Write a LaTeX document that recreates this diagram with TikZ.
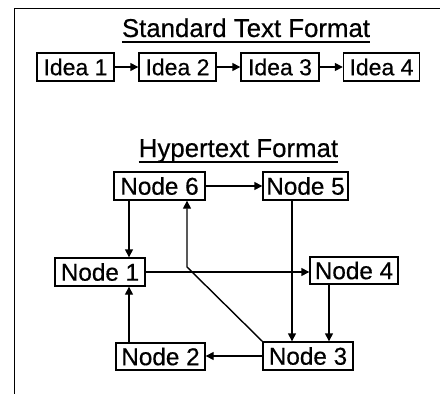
\documentclass[tikz,border=0pt]{standalone}
\usepackage{fontspec}
\setmainfont{Liberation Sans}
\newfontfamily\heavyfont[FakeBold=0.5]{Liberation Sans}
\usetikzlibrary{arrows.meta}
\begin{document}
\begin{tikzpicture}[x=1pt,y=-1pt,
  box/.style={draw,line width=1.4pt,inner sep=0pt,minimum height=28pt,align=center},
  idea/.style={box,font=\heavyfont\fontsize{23}{23}\selectfont},
  hnode/.style={box,font=\heavyfont\fontsize{24.3}{24.3}\selectfont},
  ttl/.style={inner sep=0pt,anchor=base,font=\heavyfont\fontsize{25.8}{25.8}\selectfont},
  arr/.style={line width=1.4pt,-{Triangle[length=8pt,width=8pt]}},
  ln/.style={line width=1.4pt}]
\useasboundingbox (0,0) rectangle (440,394);
% frame
\draw[line width=1.6pt] (14.5,394) -- (14.5,8.5) -- (440,8.5);
% standard text format
\node[ttl] (t1) at (246,37) {Standard Text Format};
\draw[line width=2pt] ([yshift=-4.5pt]t1.base west) -- ([yshift=-4.5pt]t1.base east);
\node[idea,minimum width=77pt] (i1) at (75.5,67) {Idea 1};
\node[idea,minimum width=77pt] (i2) at (177.5,67) {Idea 2};
\node[idea,minimum width=78pt] (i3) at (280,67) {Idea 3};
\node[idea,minimum width=76pt] (i4) at (381.5,67) {Idea 4};
\draw[arr] (i1) -- (i2);
\draw[arr] (i2) -- (i3);
\draw[arr] (i3) -- (i4);
% hypertext format
\node[ttl] (t2) at (238.5,157) {Hypertext Format};
\draw[line width=2pt] ([yshift=-4.5pt]t2.base west) -- ([yshift=-4.5pt]t2.base east);
\node[hnode,minimum width=91pt] (n6) at (159.5,186) {Node 6};
\node[hnode,minimum width=85pt] (n5) at (305.5,186) {Node 5};
\node[hnode,minimum width=90pt] (n1) at (100,272) {Node 1};
\node[hnode,minimum width=88pt,minimum height=27pt] (n4) at (354,270.5) {Node 4};
\node[hnode,minimum width=89pt,minimum height=27pt] (n2) at (160.5,356.5) {Node 2};
\node[hnode,minimum width=90pt] (n3) at (308,356) {Node 3};
\coordinate (xa) at (129,0);
\coordinate (xb) at (292,0);
\coordinate (xc) at (329,0);
\coordinate (bend) at (187,267);
\draw[arr] (n6.east) -- (n6.east -| n5.west);
\draw[arr] (xa |- n6.south) -- (xa |- n1.north);
\draw[arr] (xa |- n2.north) -- (xa |- n1.south);
\draw[arr] (n1.east) -- (n1.east -| n4.west);
\draw[arr] (xb |- n5.south) -- (xb |- n3.north);
\draw[arr] (xc |- n4.south) -- (xc |- n3.north);
\draw[arr] (n3.west) -- (n3.west -| n2.east);
\draw[arr] (n3.north west) -- (bend) -- (bend |- n6.south);
\end{tikzpicture}
\end{document}
